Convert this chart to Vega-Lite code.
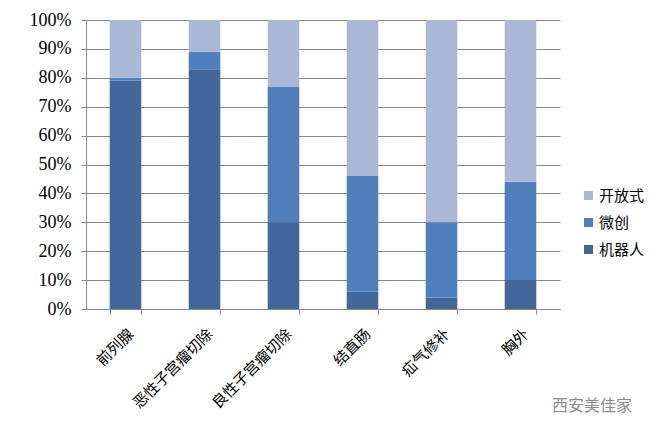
{
  "$schema": "https://vega.github.io/schema/vega-lite/v6.json",
  "width": 474,
  "height": 289,
  "autosize": {"type": "none"},
  "padding": {"left": 86, "top": 20, "right": 93, "bottom": 122},
  "background": "white",
  "title": {
    "text": "西安美佳家",
    "orient": "bottom",
    "anchor": "end",
    "frame": "group",
    "offset": -13,
    "font": "Noto Sans CJK SC",
    "fontSize": 16,
    "fontWeight": "normal",
    "color": "#8a8a8a",
    "dx": 72
  },
  "data": {
    "values": [
      {"cat": "前列腺", "type": "机器人", "v": 79},
      {"cat": "前列腺", "type": "微创", "v": 1},
      {"cat": "前列腺", "type": "开放式", "v": 20},
      {"cat": "恶性子宫瘤切除", "type": "机器人", "v": 83},
      {"cat": "恶性子宫瘤切除", "type": "微创", "v": 6},
      {"cat": "恶性子宫瘤切除", "type": "开放式", "v": 11},
      {"cat": "良性子宫瘤切除", "type": "机器人", "v": 30},
      {"cat": "良性子宫瘤切除", "type": "微创", "v": 47},
      {"cat": "良性子宫瘤切除", "type": "开放式", "v": 23},
      {"cat": "结直肠", "type": "机器人", "v": 6},
      {"cat": "结直肠", "type": "微创", "v": 40},
      {"cat": "结直肠", "type": "开放式", "v": 54},
      {"cat": "疝气修补", "type": "机器人", "v": 4},
      {"cat": "疝气修补", "type": "微创", "v": 26},
      {"cat": "疝气修补", "type": "开放式", "v": 70},
      {"cat": "胸外", "type": "机器人", "v": 10},
      {"cat": "胸外", "type": "微创", "v": 34},
      {"cat": "胸外", "type": "开放式", "v": 56}
    ]
  },
  "mark": {"type": "bar"},
  "encoding": {
    "x": {
      "field": "cat",
      "type": "nominal",
      "sort": null,
      "scale": {"paddingInner": 0.6, "paddingOuter": 0.3},
      "axis": {
        "title": null,
        "labelAngle": -45,
        "labelAlign": "right",
        "labelBaseline": "middle",
        "labelFont": "Noto Sans CJK SC",
        "labelFontSize": 15,
        "labelColor": "#000000",
        "labelPadding": 17,
        "labelOffset": 5,
        "tickBand": "extent",
        "tickSize": 5,
        "tickColor": "#888888",
        "domainColor": "#888888",
        "grid": false
      }
    },
    "y": {
      "field": "v",
      "type": "quantitative",
      "stack": "normalize",
      "scale": {"domain": [0, 1], "nice": false},
      "axis": {
        "title": null,
        "values": [0, 0.1, 0.2, 0.3, 0.4, 0.5, 0.6, 0.7, 0.8, 0.9, 1],
        "format": ".0%",
        "labelFont": "Times New Roman",
        "labelFontSize": 18,
        "labelColor": "#000000",
        "labelPadding": 10,
        "tickSize": 5,
        "tickColor": "#888888",
        "domainColor": "#888888",
        "gridColor": "#888888",
        "gridWidth": 1
      }
    },
    "color": {
      "field": "type",
      "type": "nominal",
      "scale": {
        "domain": ["开放式", "微创", "机器人"],
        "range": ["#aab8d6", "#4f7fbd", "#44679b"]
      },
      "legend": {
        "title": null,
        "orient": "none",
        "legendX": 495,
        "legendY": 168,
        "symbolType": "square",
        "symbolSize": 81,
        "symbolStrokeWidth": 0,
        "labelFont": "Noto Sans CJK SC",
        "labelFontSize": 15,
        "labelColor": "#000000",
        "rowPadding": 11,
        "labelOffset": 3
      }
    }
  },
  "config": {"view": {"stroke": null}}
}
